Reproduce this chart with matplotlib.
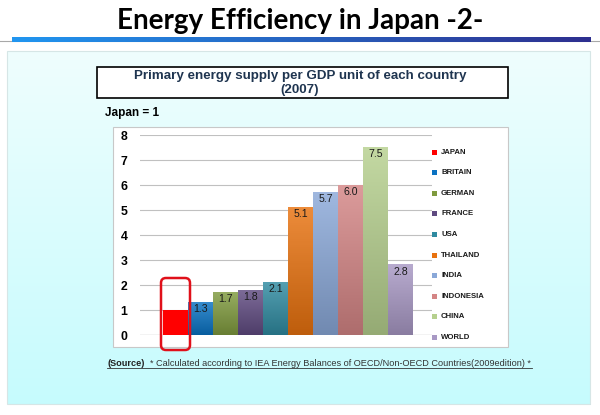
import numpy as np
import matplotlib
matplotlib.use("Agg")
import matplotlib.pyplot as plt
from matplotlib.patches import Rectangle, FancyBboxPatch
from matplotlib.colors import to_rgb

# ---- data ----
countries = ["JAPAN", "BRITAIN", "GERMAN", "FRANCE", "USA", "THAILAND",
             "INDIA", "INDONESIA", "CHINA", "WORLD"]
values = [1.0, 1.3, 1.7, 1.8, 2.1, 5.1, 5.7, 6.0, 7.5, 2.8]
value_labels = ["", "1.3", "1.7", "1.8", "2.1", "5.1", "5.7", "6.0", "7.5", "2.8"]
colors = ["#ff0000", "#0a72c2", "#7f9a3e", "#5f4a80", "#2f8aa0", "#e8720f",
          "#8aa8d8", "#d48585", "#b6d08e", "#a898c4"]
shaded = [False, True, True, True, True, True, True, True, True, True]
yticks = [0, 1, 2, 3, 4, 5, 6, 7, 8]

W, H = 600, 415
fig = plt.figure(figsize=(W / 100, H / 100), dpi=100)
fig.patch.set_facecolor("white")

# background overlay in pixel coords
bg = fig.add_axes([0, 0, 1, 1], zorder=0)
bg.set_xlim(0, W)
bg.set_ylim(H, 0)
bg.axis("off")

# title
bg.text(300, 21, "Energy Efficiency in Japan -2-", ha="center", va="center",
        fontsize=20, fontweight="bold", family="Lato", color="black")
# grey rule + blue gradient rule
bg.plot([0, 600], [41.5, 41.5], color="#a8a8a8", lw=0.8, zorder=1)
grad = np.linspace(0, 1, 256)
c1 = np.array(to_rgb("#2196f0"))
c2 = np.array(to_rgb("#2e2f8f"))
blue = c1[None, :] * (1 - grad[:, None]) + c2[None, :] * grad[:, None]
bg.imshow(blue[None, :, :], extent=(12, 591, 42, 37.5), aspect="auto", zorder=2)

# light cyan panel with vertical gradient
t = np.linspace(0, 1, 256)
top = np.array(to_rgb("#effefe"))
bot = np.array(to_rgb("#c6fbfd"))
pan = top[None, :] * (1 - t[:, None]) + bot[None, :] * t[:, None]
bg.add_patch(Rectangle((8.5, 52.5), 582, 352.5, facecolor="#b8c8c8", edgecolor="none", zorder=1))
bg.imshow(pan[:, None, :], extent=(7, 589.5, 403.5, 51), aspect="auto", zorder=2)
bg.add_patch(Rectangle((7, 51), 582.5, 352.5, facecolor="none", edgecolor="#d6e6e6", lw=0.8, zorder=3))

# chart title box
bg.add_patch(Rectangle((97, 67), 411, 31, facecolor="white", edgecolor="black", lw=1.2, zorder=4))
bg.text(300, 75.5, "Primary energy supply per GDP unit of each country", ha="center", va="center",
        fontsize=9.6, fontweight="bold", family="Liberation Sans", color="#1f3550", zorder=5)
bg.text(300, 90, "(2007)", ha="center", va="center",
        fontsize=9.6, fontweight="bold", family="Liberation Sans", color="#1f3550", zorder=5)

bg.text(105, 113, "Japan = 1", ha="left", va="center", fontsize=8.5,
        fontweight="bold", family="Liberation Sans", color="black", zorder=5)

# chart white area
bg.add_patch(Rectangle((113, 127), 395, 220, facecolor="white", edgecolor="#c8c8c8", lw=0.8, zorder=4))

# source
src_y = 363
bg.text(107, src_y, "(Source)", ha="left", va="center", fontsize=6.6, fontweight="bold",
        family="Liberation Sans", color="#222222", zorder=5)
bg.text(150.5, src_y, "* Calculated according to IEA Energy Balances of OECD/Non-OECD Countries(2009edition) *",
        ha="left", va="center", fontsize=6.6, family="Liberation Sans", color="#333333", zorder=5)
bg.plot([107, 532], [src_y + 5, src_y + 5], color="#333333", lw=0.6, zorder=5)

# ---- main chart ----
ax = fig.add_axes([140 / W, 1 - 335 / H, (432 - 140) / W, 200 / H], zorder=2)
ax.patch.set_alpha(0)
x = np.arange(len(countries))
bars = ax.bar(x, values, width=1.0, color=colors, edgecolor="none", zorder=3)

# gradients on bars (lighter top -> darker bottom)
for b, c, sh in zip(bars, colors, shaded):
    if not sh:
        continue
    base = np.array(to_rgb(c))
    light = base + (1 - base) * 0.18
    dark = base * 0.82
    g = np.linspace(0, 1, 64)[:, None]
    img = light[None, :] * (1 - g) + dark[None, :] * g
    x0, w, h = b.get_x(), b.get_width(), b.get_height()
    ax.imshow(img[:, None, :], extent=(x0, x0 + w, 0, h), aspect="auto", zorder=3.5)
    b.set_visible(False)
ax.set_xlim(-1.42, 10.26)
ax.set_ylim(0, 8)

for xi, v, lab in zip(x, values, value_labels):
    if lab:
        ax.text(xi, v - 0.27, lab, ha="center", va="center", fontsize=7.6,
                family="Liberation Sans", color="#1a1a1a", zorder=5)

ax.set_yticks(yticks)
ax.set_yticklabels([str(v) for v in yticks], fontsize=8.8, fontweight="bold",
                   family="Liberation Sans")
ax.tick_params(axis="y", length=0, pad=9)
ax.set_xticks([])
ax.grid(axis="y", color="#c0c0c0", lw=0.8, zorder=0)
for s in ax.spines.values():
    s.set_visible(False)
ax.axhline(0, color="#bfbfbf", lw=0.9, zorder=2)

# legend (top overlay, pixel coords)
ov = fig.add_axes([0, 0, 1, 1], zorder=3)
ov.set_xlim(0, W)
ov.set_ylim(H, 0)
ov.axis("off")
ov.patch.set_alpha(0)
for i, (name, c) in enumerate(zip(countries, colors)):
    yy = 152 + i * 20.6
    ov.add_patch(Rectangle((431.5, yy - 2.5), 5, 5, facecolor=c, edgecolor="none"))
    ov.text(441, yy, name, ha="left", va="center", fontsize=5.6, fontweight="bold",
            family="Liberation Sans", color="#1a1a1a")

# red highlight around Japan bar
ov.add_patch(FancyBboxPatch((161, 278), 29, 72, boxstyle="round,pad=0,rounding_size=5",
                            facecolor="none", edgecolor="#e0101a", lw=1.8))

fig.savefig("out.png", dpi=100)
